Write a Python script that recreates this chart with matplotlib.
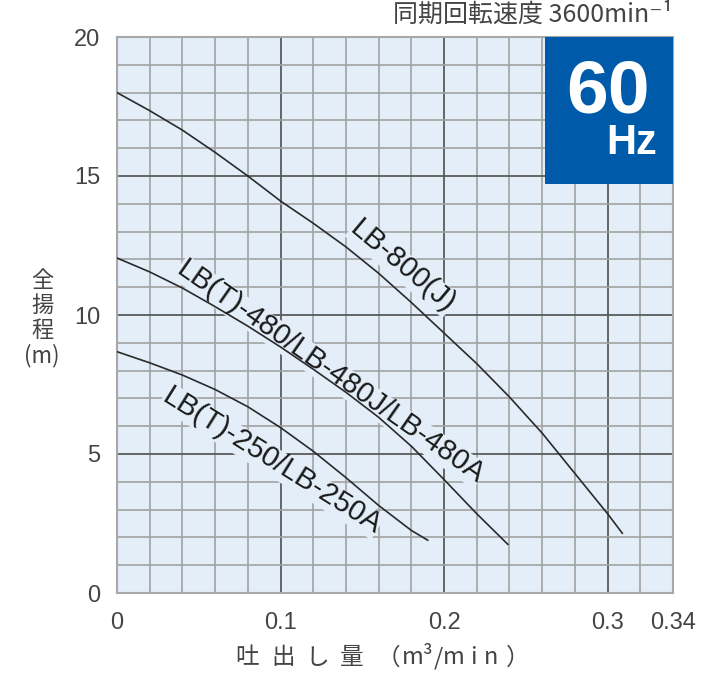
import matplotlib
matplotlib.use("Agg")
import matplotlib.pyplot as plt
from matplotlib.patches import Rectangle

plt.rcParams['font.family'] = ['Liberation Sans', 'Noto Sans CJK JP', 'DejaVu Sans']

# pump curves (discharge m3/min, total head m)
x800 = [0, 0.02, 0.04, 0.06, 0.08, 0.10, 0.12, 0.14, 0.16, 0.18, 0.20, 0.22, 0.24, 0.26, 0.28, 0.30, 0.309]
y800 = [18.0, 17.35, 16.65, 15.85, 15.0, 14.1, 13.3, 12.45, 11.5, 10.45, 9.35, 8.25, 7.05, 5.75, 4.3, 2.85, 2.15]

x480 = [0, 0.02, 0.04, 0.06, 0.08, 0.10, 0.12, 0.14, 0.16, 0.18, 0.20, 0.22, 0.239]
y480 = [12.05, 11.55, 10.97, 10.3, 9.6, 8.85, 8.05, 7.22, 6.32, 5.28, 4.08, 2.85, 1.75]

x250 = [0, 0.02, 0.04, 0.06, 0.08, 0.10, 0.12, 0.14, 0.16, 0.18, 0.19]
y250 = [8.68, 8.28, 7.84, 7.32, 6.7, 5.95, 5.1, 4.15, 3.15, 2.25, 1.9]

labels = ['LB-800(J)', 'LB(T)-480/LB-480J/LB-480A', 'LB(T)-250/LB-250A']
xticks = [0, 0.1, 0.2, 0.3, 0.34]
xticklabels = ['0', '0.1', '0.2', '0.3', '0.34']
yticks = [0, 5, 10, 15, 20]

bg = '#e4eef8'
blue = '#005aaa'
text_col = '#444444'
cjk = ['Noto Sans CJK JP', 'DejaVu Sans']

fig = plt.figure(figsize=(7.2, 6.87), dpi=100)
ax = fig.add_axes([117/720, 1 - 593/687, 556/720, 556/687])
ax.set_facecolor(bg)
ax.set_xlim(0, 0.34)
ax.set_ylim(0, 20)

# grid: light every 0.02 / 1 m, dark every 0.1 / 5 m
for i in range(1, 17):
    major = i % 5 == 0
    ax.axvline(i * 0.02, color='#5a5a5a' if major else '#a2a2a2', lw=1.3 if major else 1.2, zorder=1)
for yv in range(1, 20):
    major = yv % 5 == 0
    ax.axhline(yv, color='#5a5a5a' if major else '#a2a2a2', lw=1.3 if major else 1.2, zorder=1)

for s in ax.spines.values():
    s.set_color('#a8a8a8')
    s.set_linewidth(1.5)

ax.set_xticks(xticks)
ax.set_xticklabels(xticklabels)
ax.set_yticks(yticks)
ax.tick_params(length=0, labelsize=17, labelcolor=text_col)
ax.tick_params(axis='x', pad=14)
ax.tick_params(axis='y', pad=12)

for xs, ys in [(x800, y800), (x480, y480), (x250, y250)]:
    ax.plot(xs, ys, color='#2a2a2a', lw=1.2, zorder=5)

lab_pos = [(0.1745, 11.75, -40), (0.1305, 7.95, -35), (0.0945, 4.75, -32)]
for lab, (lx, ly, rot) in zip(labels, lab_pos):
    ax.text(lx, ly, lab, rotation=rot, rotation_mode='anchor', ha='center', va='center',
            fontsize=21, color='#1a1a1a', zorder=4,
            bbox=dict(facecolor=bg, edgecolor='none', pad=0.1))

# 60 Hz badge
ax.add_patch(Rectangle((0.262, 14.7), 0.078, 5.3, facecolor=blue, edgecolor='none', zorder=6))
ax.text(0.3003, 18.0, '60', ha='center', va='center', color='white', fontsize=54,
        fontweight='bold', zorder=7)
ax.text(0.3145, 16.2, 'Hz', ha='center', va='center', color='white', fontsize=30,
        fontweight='bold', zorder=7)

fig.text(673/720, 1 - 15/687, '同期回転速度 3600min⁻¹', ha='right', va='center',
         fontsize=18, color=text_col, family=cjk)

# y label, stacked vertically
fig.text(42/720, 1 - 318/687, '全\n揚\n程\n(m)', ha='center', va='center', fontsize=16,
         linespacing=1.1, color=text_col, family=cjk)

# x label, spread out
xlab_chars = ['吐', '出', 'し', '量', '（', 'm³', '/', 'm', 'i', 'n', '）']
xlab_px = [247, 283, 317, 352, 388, 418, 438, 454, 473, 491, 518]
for ch, px in zip(xlab_chars, xlab_px):
    fig.text(px/720, 1 - 658/687, ch, ha='center', va='center', fontsize=17, color=text_col,
             family=cjk)

fig.savefig('out.png', dpi=100)
